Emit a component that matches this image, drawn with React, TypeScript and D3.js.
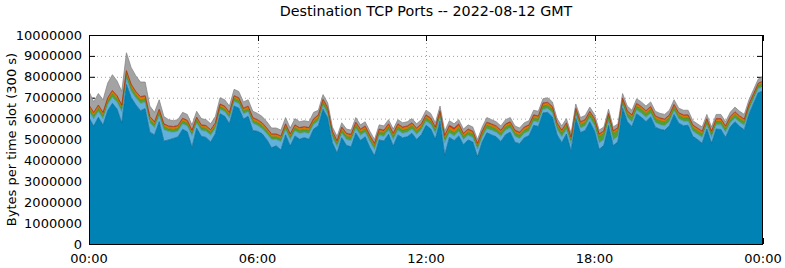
import React from "react";
import * as d3 from "d3";

// Values in millions of bytes per 300 s slot, one value every 10 minutes (00:00 .. 24:00)
const blue = [
  6.04, 5.64, 6.06, 5.69, 6.38, 6.73, 6.46, 5.78, 7.63, 7.01, 6.66, 6.38, 6.48,
  5.35, 5.22, 5.85, 4.92, 4.98, 5.05, 5.12, 5.49, 5.37, 4.63, 5.54, 5.15, 5.10,
  4.88, 5.28, 6.23, 6.11, 5.75, 6.60, 6.50, 5.98, 6.11, 5.43, 5.39, 5.27, 4.99,
  4.60, 4.70, 4.50, 5.22, 4.69, 5.17, 5.01, 5.09, 5.01, 5.50, 5.66, 6.45, 6.03,
  4.85, 4.35, 5.08, 4.72, 4.65, 5.31, 4.95, 5.13, 4.62, 4.22, 4.98, 4.93, 5.25,
  4.69, 5.22, 5.08, 5.13, 5.30, 5.00, 5.23, 5.68, 5.51, 5.02, 5.88, 4.25, 5.10,
  4.95, 5.17, 4.75, 4.98, 4.88, 4.17, 4.88, 5.32, 5.22, 5.13, 4.90, 5.23, 5.35,
  4.87, 4.80, 5.08, 5.18, 5.68, 5.62, 6.27, 6.30, 6.08, 5.23, 4.85, 5.26, 4.45,
  6.02, 5.33, 5.43, 5.85, 5.41, 4.53, 4.72, 5.67, 4.70, 4.90, 6.50, 5.86, 5.62,
  6.23, 6.06, 5.86, 6.08, 5.59, 5.49, 5.44, 5.66, 6.20, 5.78, 5.66, 5.68, 5.15,
  5.00, 4.82, 5.50, 4.82, 5.50, 5.48, 5.10, 5.60, 5.85, 5.63, 5.46, 6.21, 6.74,
  7.24, 7.32,
];
const lightBlue = [
  0.30, 0.35, 0.28, 0.30, 0.30, 0.30, 0.32, 0.55, 0.30, 0.30, 0.32, 0.35, 0.30,
  0.45, 0.35, 0.30, 0.55, 0.40, 0.30, 0.28, 0.25, 0.28, 0.55, 0.25, 0.28, 0.30,
  0.32, 0.25, 0.20, 0.22, 0.28, 0.22, 0.22, 0.25, 0.22, 0.35, 0.28, 0.25, 0.28,
  0.40, 0.30, 0.40, 0.25, 0.30, 0.25, 0.28, 0.25, 0.28, 0.22, 0.22, 0.18, 0.20,
  0.25, 0.30, 0.22, 0.28, 0.30, 0.22, 0.25, 0.22, 0.28, 0.30, 0.22, 0.22, 0.20,
  0.30, 0.22, 0.22, 0.22, 0.20, 0.25, 0.22, 0.20, 0.22, 0.28, 0.20, 0.60, 0.22,
  0.22, 0.22, 0.25, 0.22, 0.22, 0.35, 0.22, 0.20, 0.22, 0.22, 0.25, 0.22, 0.20,
  0.28, 0.25, 0.22, 0.22, 0.20, 0.20, 0.18, 0.18, 0.20, 0.25, 0.28, 0.22, 0.35,
  0.18, 0.22, 0.22, 0.20, 0.25, 0.30, 0.28, 0.22, 0.28, 0.25, 0.18, 0.20, 0.22,
  0.18, 0.20, 0.20, 0.18, 0.22, 0.22, 0.22, 0.20, 0.18, 0.20, 0.22, 0.20, 0.25,
  0.25, 0.28, 0.20, 0.28, 0.20, 0.22, 0.25, 0.20, 0.18, 0.20, 0.22, 0.20, 0.20,
  0.20, 0.22,
];
const green = [
  0.15, 0.15, 0.15, 0.15, 0.16, 0.16, 0.16, 0.16, 0.18, 0.17, 0.16, 0.16, 0.16,
  0.15, 0.14, 0.15, 0.14, 0.13, 0.13, 0.13, 0.14, 0.13, 0.13, 0.14, 0.13, 0.13,
  0.13, 0.13, 0.13, 0.13, 0.13, 0.14, 0.14, 0.13, 0.13, 0.13, 0.14, 0.14, 0.14,
  0.13, 0.13, 0.13, 0.14, 0.14, 0.14, 0.14, 0.14, 0.14, 0.14, 0.15, 0.15, 0.15,
  0.15, 0.15, 0.15, 0.15, 0.15, 0.15, 0.15, 0.15, 0.15, 0.15, 0.15, 0.15, 0.15,
  0.16, 0.16, 0.15, 0.15, 0.15, 0.15, 0.15, 0.15, 0.15, 0.15, 0.15, 0.18, 0.16,
  0.16, 0.16, 0.15, 0.15, 0.15, 0.15, 0.15, 0.16, 0.16, 0.15, 0.15, 0.15, 0.15,
  0.15, 0.15, 0.15, 0.15, 0.15, 0.16, 0.16, 0.16, 0.16, 0.18, 0.18, 0.18, 0.18,
  0.16, 0.16, 0.16, 0.16, 0.20, 0.30, 0.28, 0.22, 0.30, 0.28, 0.16, 0.18, 0.20,
  0.18, 0.18, 0.18, 0.18, 0.18, 0.18, 0.18, 0.18, 0.16, 0.16, 0.16, 0.16, 0.16,
  0.16, 0.16, 0.16, 0.16, 0.16, 0.16, 0.16, 0.16, 0.16, 0.16, 0.16, 0.15, 0.14,
  0.14, 0.14,
];
const orange = [
  0.12, 0.12, 0.12, 0.12, 0.12, 0.12, 0.12, 0.12, 0.14, 0.13, 0.12, 0.12, 0.12,
  0.11, 0.10, 0.11, 0.10, 0.10, 0.10, 0.10, 0.10, 0.10, 0.10, 0.10, 0.10, 0.10,
  0.10, 0.10, 0.10, 0.10, 0.10, 0.10, 0.10, 0.10, 0.10, 0.10, 0.10, 0.10, 0.10,
  0.10, 0.10, 0.10, 0.10, 0.10, 0.10, 0.10, 0.10, 0.10, 0.10, 0.10, 0.10, 0.10,
  0.10, 0.10, 0.10, 0.10, 0.10, 0.10, 0.10, 0.10, 0.10, 0.10, 0.10, 0.10, 0.10,
  0.10, 0.10, 0.10, 0.10, 0.10, 0.10, 0.10, 0.10, 0.10, 0.10, 0.10, 0.12, 0.12,
  0.12, 0.12, 0.10, 0.10, 0.10, 0.10, 0.10, 0.10, 0.10, 0.10, 0.10, 0.10, 0.10,
  0.10, 0.10, 0.10, 0.10, 0.10, 0.10, 0.10, 0.10, 0.10, 0.10, 0.10, 0.10, 0.10,
  0.10, 0.10, 0.10, 0.10, 0.10, 0.10, 0.10, 0.10, 0.10, 0.10, 0.10, 0.10, 0.10,
  0.10, 0.10, 0.10, 0.10, 0.10, 0.10, 0.10, 0.10, 0.10, 0.10, 0.10, 0.10, 0.10,
  0.10, 0.10, 0.10, 0.10, 0.10, 0.10, 0.10, 0.10, 0.10, 0.10, 0.10, 0.10, 0.08,
  0.08, 0.08,
];
const red = [
  0.04, 0.04, 0.04, 0.04, 0.04, 0.04, 0.04, 0.04, 0.05, 0.04, 0.04, 0.04, 0.04,
  0.04, 0.04, 0.04, 0.04, 0.04, 0.04, 0.04, 0.04, 0.04, 0.04, 0.04, 0.04, 0.04,
  0.04, 0.04, 0.04, 0.04, 0.04, 0.04, 0.04, 0.04, 0.04, 0.04, 0.04, 0.04, 0.04,
  0.04, 0.04, 0.04, 0.04, 0.04, 0.04, 0.04, 0.04, 0.04, 0.04, 0.05, 0.05, 0.05,
  0.05, 0.05, 0.05, 0.05, 0.05, 0.05, 0.05, 0.05, 0.05, 0.05, 0.05, 0.05, 0.05,
  0.05, 0.05, 0.05, 0.05, 0.05, 0.05, 0.05, 0.05, 0.05, 0.05, 0.05, 0.05, 0.08,
  0.10, 0.08, 0.05, 0.05, 0.05, 0.05, 0.05, 0.05, 0.05, 0.05, 0.05, 0.05, 0.05,
  0.05, 0.05, 0.05, 0.05, 0.05, 0.05, 0.04, 0.04, 0.04, 0.04, 0.04, 0.04, 0.04,
  0.04, 0.04, 0.04, 0.04, 0.04, 0.04, 0.04, 0.04, 0.04, 0.04, 0.04, 0.04, 0.04,
  0.04, 0.04, 0.04, 0.04, 0.04, 0.04, 0.04, 0.04, 0.04, 0.04, 0.04, 0.04, 0.04,
  0.04, 0.04, 0.04, 0.04, 0.04, 0.04, 0.04, 0.04, 0.04, 0.04, 0.04, 0.04, 0.04,
  0.04, 0.04,
];
const gray = [
  0.65, 0.50, 0.55, 0.60, 0.70, 0.75, 0.70, 0.65, 0.85, 0.80, 0.75, 0.70, 0.65,
  0.50, 0.45, 0.45, 0.35, 0.30, 0.28, 0.28, 0.28, 0.28, 0.25, 0.28, 0.30, 0.28,
  0.28, 0.30, 0.30, 0.30, 0.30, 0.30, 0.30, 0.30, 0.30, 0.30, 0.30, 0.30, 0.30,
  0.28, 0.28, 0.28, 0.30, 0.28, 0.30, 0.28, 0.28, 0.28, 0.30, 0.22, 0.22, 0.22,
  0.20, 0.20, 0.20, 0.20, 0.20, 0.22, 0.20, 0.20, 0.20, 0.18, 0.20, 0.20, 0.20,
  0.20, 0.20, 0.20, 0.20, 0.20, 0.20, 0.20, 0.22, 0.22, 0.20, 0.22, 0.20, 0.22,
  0.20, 0.20, 0.20, 0.20, 0.20, 0.18, 0.20, 0.22, 0.20, 0.20, 0.20, 0.20, 0.20,
  0.20, 0.20, 0.20, 0.20, 0.22, 0.22, 0.20, 0.22, 0.22, 0.20, 0.20, 0.20, 0.18,
  0.20, 0.20, 0.20, 0.20, 0.20, 0.18, 0.18, 0.20, 0.18, 0.18, 0.22, 0.22, 0.22,
  0.22, 0.22, 0.22, 0.22, 0.22, 0.22, 0.22, 0.22, 0.22, 0.22, 0.22, 0.22, 0.20,
  0.20, 0.20, 0.20, 0.20, 0.20, 0.20, 0.20, 0.20, 0.22, 0.22, 0.22, 0.20, 0.20,
  0.20, 0.20,
];

const seriesKeys = ["blue", "lightBlue", "green", "orange", "red", "gray"];
const seriesData: Record<string, number[]> = { blue, lightBlue, green, orange, red, gray };
const yTicks = [0, 1000000, 2000000, 3000000, 4000000, 5000000, 6000000, 7000000, 8000000, 9000000, 10000000];
const xTickHours = [0, 6, 12, 18, 24];
const xTickLabels = ["00:00", "06:00", "12:00", "18:00", "00:00"];

const fills: Record<string, string> = {
  blue: "#0082b4",
  lightBlue: "#62b0dc",
  green: "#52a02e",
  orange: "#e27a00",
  red: "#c83a1c",
  gray: "#a3a3a3",
};
const strokes: Record<string, string> = {
  blue: "#006690",
  lightBlue: "#4a94c0",
  green: "#3e8420",
  orange: "#c06400",
  red: "#a02810",
  gray: "#808080",
};

const W = 785, H = 268;
const L = 89, R = 763, T = 35, B = 244;
const FONT = "'DejaVu Sans', sans-serif";

export default function App() {
  const table = blue.map((_, i) => {
    const row: Record<string, number> = { hour: i / 6 };
    seriesKeys.forEach((k) => (row[k] = seriesData[k][i] * 1e6));
    return row;
  });
  const stacked = d3.stack<Record<string, number>>().keys(seriesKeys)(table);
  const x = d3.scaleLinear().domain([0, 24]).range([L, R]);
  const y = d3.scaleLinear().domain([0, 10000000]).range([B, T]);
  const area = d3
    .area<d3.SeriesPoint<Record<string, number>>>()
    .x((d) => x(d.data.hour))
    .y0((d) => y(d[0]))
    .y1((d) => y(d[1]));
  const topLine = d3
    .line<d3.SeriesPoint<Record<string, number>>>()
    .x((d) => x(d.data.hour))
    .y((d) => y(d[1]));
  const fmt = d3.format("d");

  return (
    <svg width={W} height={H} style={{ position: "absolute", left: 0, top: 0, background: "#fff" }} fontFamily={FONT}>
      <rect x={0} y={0} width={W} height={H} fill="#fff" />
      <defs>
        <clipPath id="plot">
          <rect x={L} y={T} width={R - L} height={B - T} />
        </clipPath>
      </defs>
      {/* grid */}
      {yTicks.slice(1, -1).map((t) => (
        <line key={"gy" + t} x1={L} x2={R} y1={y(t) + 0.5} y2={y(t) + 0.5} stroke="#a0a0a0" strokeWidth={1} strokeDasharray="1,3" />
      ))}
      {xTickHours.slice(1, -1).map((h) => (
        <line key={"gx" + h} x1={Math.round(x(h)) + 0.5} x2={Math.round(x(h)) + 0.5} y1={T} y2={B} stroke="#a0a0a0" strokeWidth={1} strokeDasharray="1,3" />
      ))}
      {/* ticks (inward, mirrored) */}
      {yTicks.map((t) => (
        <g key={"ty" + t}>
          <line x1={L} x2={L + 6} y1={y(t) + 0.5} y2={y(t) + 0.5} stroke="#000" />
          <line x1={R - 6} x2={R} y1={y(t) + 0.5} y2={y(t) + 0.5} stroke="#000" />
        </g>
      ))}
      {xTickHours.map((h) => (
        <g key={"tx" + h}>
          <line x1={Math.round(x(h)) + 0.5} x2={Math.round(x(h)) + 0.5} y1={T} y2={T + 6} stroke="#000" />
          <line x1={Math.round(x(h)) + 0.5} x2={Math.round(x(h)) + 0.5} y1={B - 6} y2={B} stroke="#000" />
        </g>
      ))}
      {/* stacked areas */}
      <g clipPath="url(#plot)">
        {stacked.map((s) => (
          <path key={s.key} d={area(s) || ""} fill={fills[s.key]} stroke="none" />
        ))}
        {stacked.map((s) => (
          <path key={"l" + s.key} d={topLine(s) || ""} fill="none" stroke={strokes[s.key]} strokeWidth={0.7} />
        ))}
      </g>
      {/* border */}
      <rect x={L + 0.5} y={T + 0.5} width={R - L - 1} height={B - T} fill="none" stroke="#000" strokeWidth={1} />
      {/* y tick labels */}
      {yTicks.map((t) => (
        <text key={"ly" + t} x={82} y={y(t)} dy="0.35em" textAnchor="end" fontSize={13} fill="#000">
          {fmt(t)}
        </text>
      ))}
      {/* x tick labels */}
      {xTickHours.map((h, i) => (
        <text key={"lx" + h} x={x(h)} y={263} textAnchor="middle" fontSize={13} fill="#000">
          {xTickLabels[i]}
        </text>
      ))}
      <text x={(L + R) / 2} y={16} textAnchor="middle" fontSize={14.3} fill="#000">
        Destination TCP Ports -- 2022-08-12 GMT
      </text>
      <text transform={`translate(16,${(T + B) / 2}) rotate(-90)`} textAnchor="middle" fontSize={13} fill="#000">
        Bytes per time slot (300 s)
      </text>
    </svg>
  );
}
